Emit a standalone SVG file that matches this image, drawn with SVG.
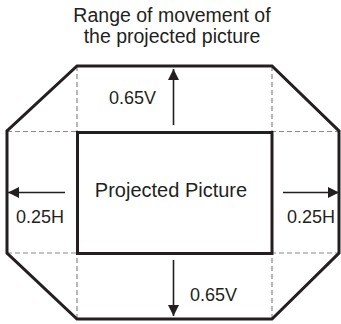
<svg xmlns="http://www.w3.org/2000/svg" width="341" height="324" viewBox="0 0 341 324">
<style>
text{font-family:"Liberation Sans",Arial,sans-serif;fill:#231f20}
.t{font-size:19.5px}
.l{font-size:18px}
.p{font-size:20px}
.thick{fill:none;stroke:#231f20;stroke-width:3;stroke-linejoin:miter}
.dash{fill:none;stroke:#8a8a8a;stroke-width:1.2;stroke-dasharray:5 3}
.arr{stroke:#231f20;stroke-width:1.6;fill:none}
</style>
<defs>
<marker id="ah" markerUnits="userSpaceOnUse" markerWidth="12" markerHeight="12" viewBox="0 0 12 12" refX="11" refY="6" orient="auto">
<path d="M0,0.5 L11,6 L0,11.5 Z" fill="#231f20"/>
</marker>
</defs>
<g id="title">
<text class="t" x="172" y="21.5" text-anchor="middle">Range of movement of</text>
<text class="t" x="172" y="43" text-anchor="middle">the projected picture</text>
</g>
<g id="guides">
<path class="dash" d="M7,131.5 H339 M7,253 H339 M77,66 V319 M272,66 V319"/>
</g>
<g id="range">
<polygon class="thick" points="77,66 272,66 339,131 339,253 272,319 77,319 7,253 7,131"/>
</g>
<g id="picture">
<rect class="thick" x="77.5" y="132.5" width="194.5" height="121"/>
<text class="p" x="171" y="197" text-anchor="middle">Projected Picture</text>
</g>
<g id="connectors">
<line class="arr" x1="173.5" y1="125" x2="173.5" y2="69" marker-end="url(#ah)"/>
<line class="arr" x1="173.5" y1="260" x2="173.5" y2="316" marker-end="url(#ah)"/>
<line class="arr" x1="65" y1="192.5" x2="8" y2="192.5" marker-end="url(#ah)"/>
<line class="arr" x1="283" y1="192.5" x2="339" y2="192.5" marker-end="url(#ah)"/>
</g>
<g id="labels">
<text class="l" x="109" y="104">0.65V</text>
<text class="l" x="190" y="301">0.65V</text>
<text class="l" x="16" y="222.5">0.25H</text>
<text class="l" x="287" y="222.5">0.25H</text>
</g>
</svg>
